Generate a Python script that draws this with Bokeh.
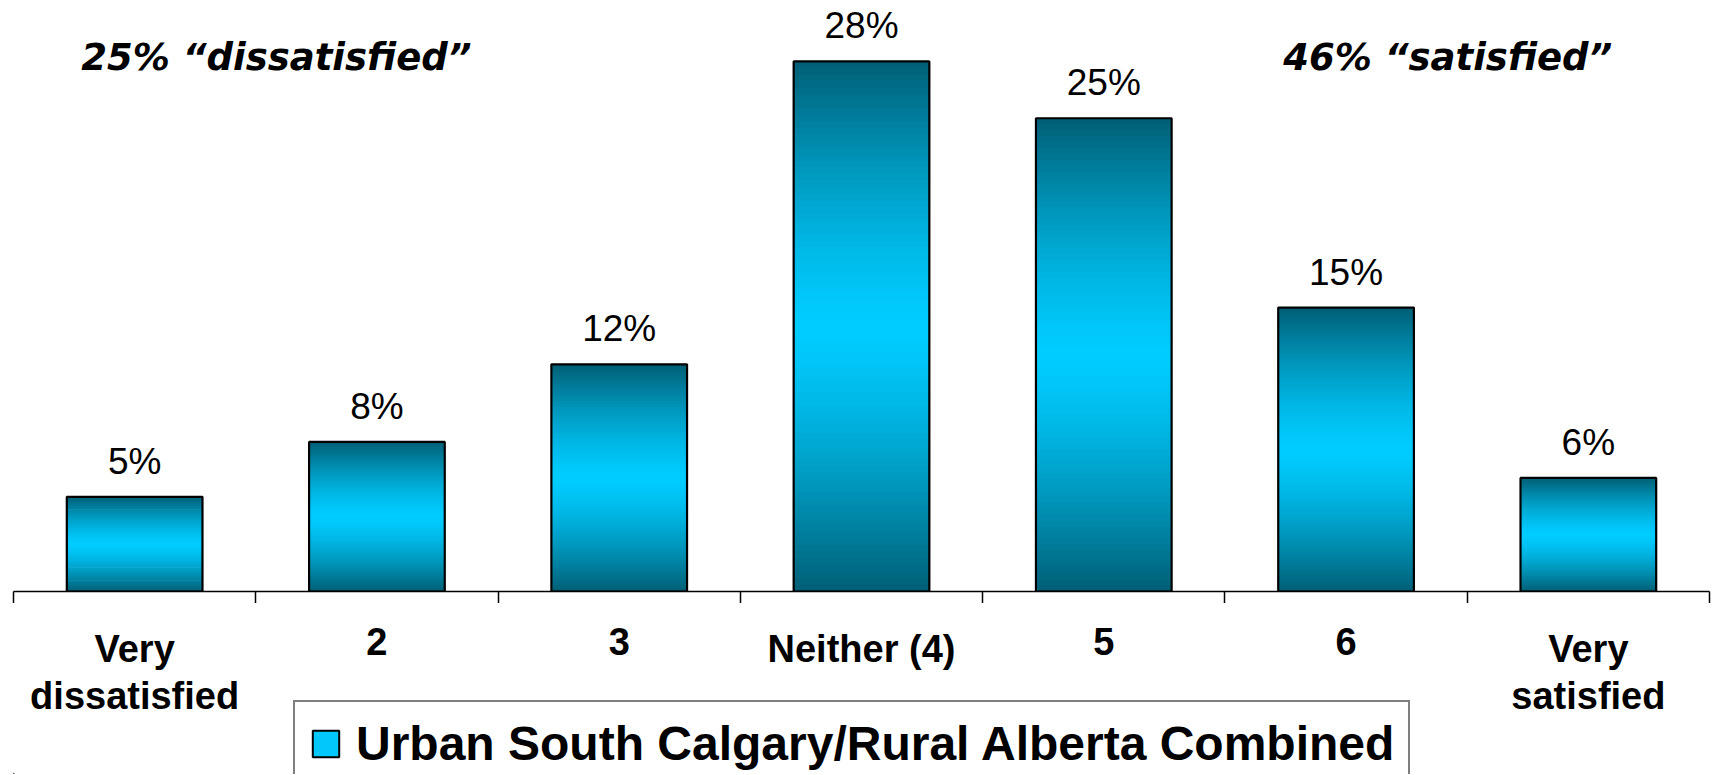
from bokeh.plotting import figure
from bokeh.layouts import column
from bokeh.models import (Range1d, ColumnDataSource, LinearAxis, FixedTicker, Label, Legend,
                          LegendItem, CustomJSTickFormatter)
from bokeh.core.properties import value
from bokeh.embed import file_html
from bokeh.resources import INLINE

# ---- data ----
categories = ["Very dissatisfied", "2", "3", "Neither (4)", "5", "6", "Very satisfied"]
tick_labels = ["Very\ndissatisfied", "2", "3", "Neither (4)", "5", "6", "Very\nsatisfied"]
values = [5.0, 7.9, 12.0, 28.0, 25.0, 15.0, 6.0]
value_labels = ["5%", "8%", "12%", "28%", "25%", "15%", "6%"]
series_name = "Urban South Calgary/Rural Alberta Combined"
note_left = "25% \u201cdissatisfied\u201d"
note_right = "46% \u201csatisfied\u201d"

DARK = (0, 94, 117)
BRIGHT = (0, 204, 255)
N_STRIPS = 80
BAR_W = 0.56

n = len(categories)
centers = [i + 0.5 for i in range(n)]

W = 1714
H_TOP, H_BOT = 603, 171
XR = Range1d(0, n)

p = figure(width=W, height=H_TOP, output_backend="svg", toolbar_location=None,
           x_range=XR, y_range=Range1d(0, 31.22),
           x_axis_location=None, y_axis_location=None,
           min_border_left=13, min_border_right=5, min_border_top=0, min_border_bottom=12)
p.outline_line_color = None
p.xgrid.visible = False
p.ygrid.visible = False

def lerp(a, b, f):
    return "#%02x%02x%02x" % tuple(int(round(a[i] + (b[i] - a[i]) * f)) for i in range(3))

sx, sb, st, sc = [], [], [], []
for cx, v in zip(centers, values):
    for k in range(N_STRIPS):
        t = (k + 0.5) / N_STRIPS
        d = abs(2 * t - 1)
        sx.append(cx)
        sb.append(v * k / N_STRIPS)
        st.append(min(v, v * (k + 1.6) / N_STRIPS))
        sc.append(lerp(BRIGHT, DARK, min(1.0, d ** 1.4)))
strips = ColumnDataSource(dict(x=sx, bottom=sb, top=st, color=sc))
p.vbar(x="x", bottom="bottom", top="top", width=BAR_W, fill_color="color",
       line_color=None, source=strips)

bars = ColumnDataSource(dict(x=centers, top=values, lab=value_labels))
p.vbar(x="x", top="top", bottom=0, width=BAR_W, fill_color=None,
       line_color="black", line_width=2.2, source=bars)

p.text(x="x", y="top", text="lab", source=bars, text_align="center", text_baseline="bottom",
       y_offset=-15, text_font=value("Liberation Sans"), text_font_size="37px", text_color="black")

for xx, txt in [(1.085, note_left), (5.92, note_right)]:
    p.add_layout(Label(x=xx, y=28.2, text=txt, text_align="center", text_baseline="middle",
                       text_font="DejaVu Sans", text_font_style="bold italic",
                       text_font_size="37px", text_color="black"))

ax_edges = LinearAxis(ticker=FixedTicker(ticks=list(range(n + 1))),
                      formatter=CustomJSTickFormatter(code="return '';"),
                      major_tick_in=0, major_tick_out=12, minor_tick_line_color=None,
                      major_tick_line_color="black", major_tick_line_width=1.5,
                      axis_line_color="black", axis_line_width=1.5,
                      major_label_text_font_size="1px", major_label_standoff=0)
p.add_layout(ax_edges, "below")

# ---- lower strip: category labels and legend ----
q = figure(width=W, height=H_BOT, output_backend="svg", toolbar_location=None,
           x_range=XR, y_range=Range1d(0, H_BOT),
           x_axis_location=None, y_axis_location=None,
           min_border_left=13, min_border_right=5, min_border_top=0, min_border_bottom=0)
q.outline_line_color = None
q.xgrid.visible = False
q.ygrid.visible = False

line1 = [t.split("\n")[0] for t in tick_labels]
line2 = [t.split("\n")[1] if "\n" in t else "" for t in tick_labels]
labs = ColumnDataSource(dict(x=centers, l1=line1, l2=line2))
for col, yy in [("l1", 147), ("l2", 100)]:
    q.text(x="x", y=yy, text=col, source=labs, text_align="center", text_baseline="top",
           text_font=value("Liberation Sans"), text_font_style="bold", text_font_size="38px",
           text_color="black")

# legend swatch: one bar placed left of the visible x range so only its legend glyph shows
sw = ColumnDataSource(dict(x=[-float(n)], top=[1.0]))
r_sw = q.vbar(x="x", top="top", bottom=0, width=BAR_W, fill_color="#00c8fa",
              line_color="black", line_width=2, source=sw)

legend = Legend(items=[LegendItem(label=series_name, renderers=[r_sw])],
                location=(280, -13), orientation="vertical",
                glyph_width=33, glyph_height=33, label_standoff=14,
                label_text_font="Liberation Sans", label_text_font_style="bold",
                label_text_font_size="48px", label_text_color="black", label_height=55,
                padding=14, margin=0, spacing=0,
                border_line_color="black", border_line_width=2, background_fill_alpha=1)
q.add_layout(legend, "center")

open("out.html", "w").write(file_html(column(p, q, spacing=0), INLINE))
